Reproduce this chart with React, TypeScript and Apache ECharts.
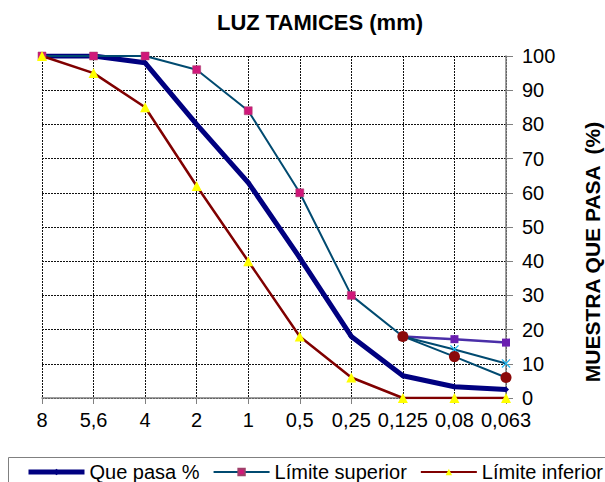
import React, { useEffect, useRef } from "react";
import * as echarts from "echarts";

const categories = ["8", "5,6", "4", "2", "1", "0,5", "0,25", "0,125", "0,08", "0,063"];
const quePasa = [100, 100, 98, 80, 63, 41, 18, 6.5, 3.3, 2.5];
const limiteSuperior = [100, 100, 100, 96, 84, 60, 30, 18, null, null];
const limiteInferior = [100, 95, 85, 62, 40, 18, 6, 0, 0, 0];
const variantePurpura = [null, null, null, null, null, null, null, 18, 17.2, 16.2];
const varianteCian = [null, null, null, null, null, null, null, 18, 14.2, 10.1];
const varianteRoja = [null, null, null, null, null, null, null, 18, 12.1, 6];
const yTicks = { min: 0, max: 100, interval: 10 };

const FONT = "'Liberation Sans', Arial, sans-serif";
const X_SYMBOL =
  "path://M0,1 L1,0 L5,4 L9,0 L10,1 L6,5 L10,9 L9,10 L5,6 L1,10 L0,9 L4,5 Z";

export default function App() {
  const ref = useRef<HTMLDivElement>(null);
  useEffect(() => {
    if (!ref.current) return;
    const chart = echarts.init(ref.current, null, { renderer: "svg" });
    chart.setOption({
      animation: false,
      backgroundColor: "#ffffff",
      textStyle: { fontFamily: FONT },
      grid: { left: 42, right: 99, top: 56, bottom: 84, containLabel: false },
      legend: {
        data: [
          { name: "Que pasa %", lineStyle: { width: 5 } },
          { name: "Límite superior" },
          { name: "Límite inferior" },
        ],
        left: 26,
        top: 462,
        width: 900,
        itemWidth: 56,
        itemHeight: 8,
        itemGap: 13,
        padding: 0,
        textStyle: { fontSize: 20, color: "#000", fontFamily: FONT },
      },
      xAxis: {
        type: "category",
        data: categories,
        boundaryGap: false,
        axisLine: { lineStyle: { color: "#808080", width: 1.5 } },
        axisTick: { show: true, length: 6, lineStyle: { color: "#808080" } },
        axisLabel: { fontSize: 20, color: "#000", margin: 12, fontFamily: FONT, interval: 0 },
        splitLine: { show: true, lineStyle: { color: "#111", type: [2, 1], width: 1 } },
      },
      yAxis: {
        type: "value",
        position: "right",
        min: yTicks.min,
        max: yTicks.max,
        interval: yTicks.interval,
        axisLine: { show: true, lineStyle: { color: "#808080", width: 1.5 } },
        axisTick: { show: true, inside: false, length: 7, lineStyle: { color: "#808080" } },
        axisLabel: { fontSize: 20, color: "#000", margin: 16, fontFamily: FONT },
        splitLine: { show: true, lineStyle: { color: "#111", type: [2, 1], width: 1 } },
      },
      graphic: [
        {
          type: "text",
          x: 320,
          y: 22,
          style: {
            text: "LUZ TAMICES (mm)",
            font: `bold 22px ${FONT}`,
            fill: "#000",
            align: "center",
            verticalAlign: "middle",
          },
        },
        {
          type: "text",
          x: 592,
          y: 252,
          rotation: Math.PI / 2,
          style: {
            text: "MUESTRA QUE PASA  (%)",
            font: `bold 21px ${FONT}`,
            fill: "#000",
            align: "center",
            verticalAlign: "middle",
          },
        },
        {
          type: "rect",
          shape: { x: 8.5, y: 457.5, width: 640, height: 60 },
          style: { fill: "none", stroke: "#808080", lineWidth: 1 },
          silent: true,
        },
      ],
      series: [
        {
          name: "Que pasa %",
          type: "line",
          data: quePasa,
          symbol: "diamond",
          symbolSize: 6,
          lineStyle: { color: "#000080", width: 5 },
          itemStyle: { color: "#000080" },
          z: 3,
        },
        {
          name: "Límite superior",
          type: "line",
          data: limiteSuperior,
          symbol: "rect",
          symbolSize: 8,
          lineStyle: { color: "#004A70", width: 2 },
          itemStyle: { color: "#D0187A", borderColor: "#A0406A", borderWidth: 0.5 },
          z: 4,
        },
        {
          name: "Límite inferior",
          type: "line",
          data: limiteInferior,
          symbol: "triangle",
          symbolSize: 10,
          lineStyle: { color: "#800000", width: 2.5 },
          itemStyle: { color: "#FFFF00" },
          z: 4,
        },
        {
          name: "Variante 1",
          type: "line",
          data: variantePurpura,
          symbol: "rect",
          symbolSize: 8,
          lineStyle: { color: "#4A2FA8", width: 2.5 },
          itemStyle: { color: "#6A1FB0" },
          z: 4,
        },
        {
          name: "Variante 2",
          type: "line",
          data: varianteCian,
          symbol: X_SYMBOL,
          symbolSize: 9,
          lineStyle: { color: "#004A70", width: 2 },
          itemStyle: { color: "#22B8F0" },
          z: 4,
        },
        {
          name: "Variante 3",
          type: "line",
          data: varianteRoja,
          symbol: "circle",
          symbolSize: 11,
          lineStyle: { color: "#004A70", width: 2 },
          itemStyle: { color: "#8B0A0A" },
          z: 5,
        },
      ],
    });
    return () => chart.dispose();
  }, []);
  return <div ref={ref} style={{ width: 605, height: 482, position: "absolute", left: 0, top: 0 }} />;
}
